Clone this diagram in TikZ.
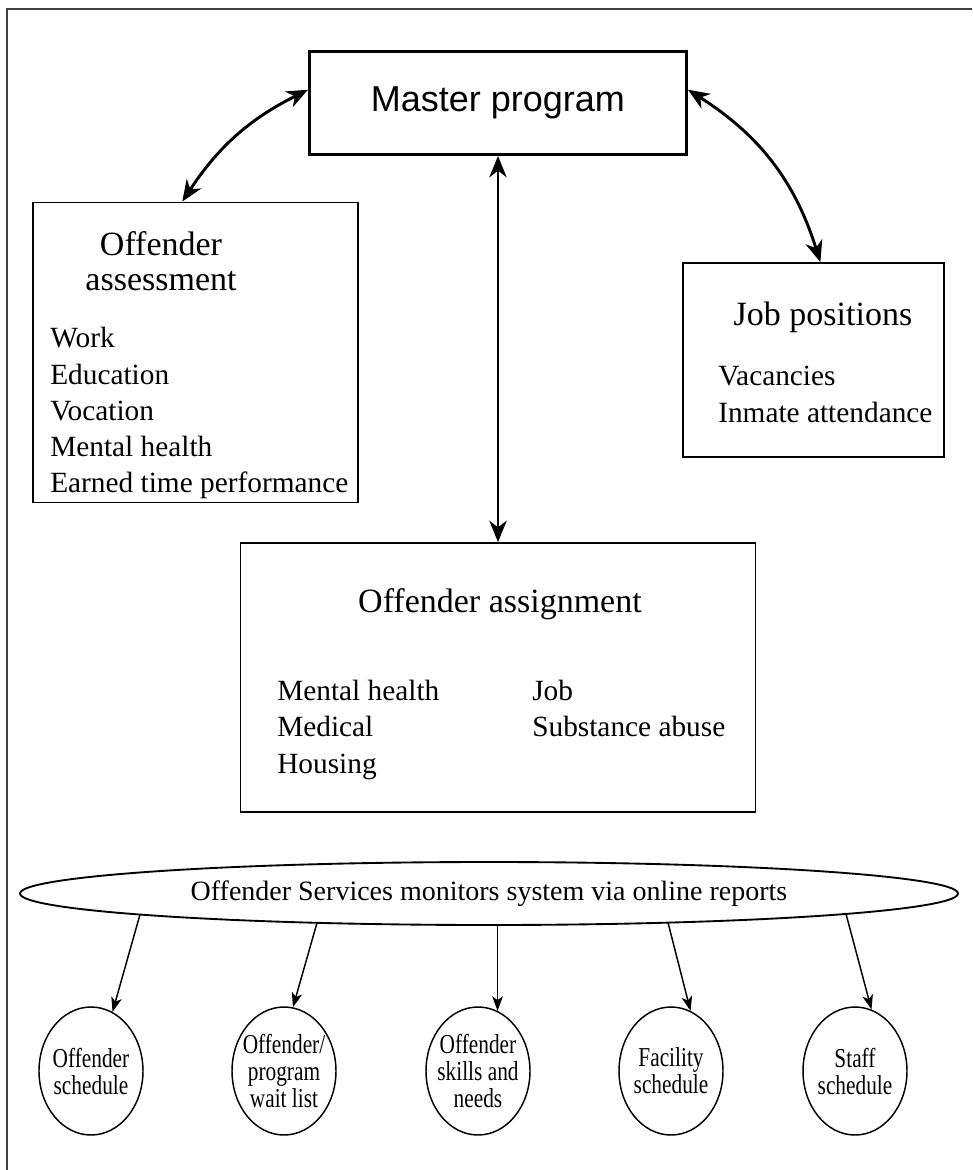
\documentclass[tikz,border=0pt]{standalone}
\usepackage{fontspec}
\setmainfont{Liberation Serif}
\newfontfamily\mastfont{Liberation Sans}
\newfontfamily\narrowfont[FakeStretch=0.78]{Liberation Serif}
\usepackage{tikz}
\usetikzlibrary{positioning,arrows.meta,shapes.geometric,calc}

\begin{document}
\begin{tikzpicture}[x=0.75pt,y=-0.75pt,
                    >={Stealth[length=16pt,width=13pt,inset=5pt]}]
  \tikzstyle{box}=[draw,line width=1.4pt,inner sep=0pt]
  \tikzstyle{head}=[font=\fontsize{25.5}{30}\selectfont,anchor=base,inner sep=0pt]
  \tikzstyle{item}=[font=\fontsize{22}{26}\selectfont,anchor=base west,inner sep=0pt]
  \tikzstyle{spot}=[draw,ellipse,line width=1.1pt,inner sep=0pt,
                    minimum width=78pt,minimum height=96pt]
  \tikzstyle{spottext}=[align=center,font=\narrowfont\fontsize{20.5}{20.25}\selectfont]
  \tikzstyle{link}=[<->,line width=2.2pt]
  \tikzstyle{feed}=[->,line width=1.1pt,>={Stealth[length=11pt,width=8pt,inset=3pt]}]

  \useasboundingbox (0,0) rectangle (972,1170);
  \draw[line width=2pt,black!75] (972,9) -- (7,9) -- (7,1170);

  % top
  \node[box,line width=2.2pt,minimum width=282.75pt,minimum height=77.25pt,
        font=\mastfont\fontsize{27}{32}\selectfont] (master) at (498,103) {Master program};

  % assessment
  \node[box,minimum width=243.75pt,minimum height=225pt] (assess) at (195.5,352.5) {};
  \node[head] (assesshead) at (161,255) {Offender};
  \node[head] (assesshead2) at (161,290) {assessment};
  \node[item] (work) at (50,347) {Work};
  \node[item] (educ) at (50,384) {Education};
  \node[item] (voc) at (50,420) {Vocation};
  \node[item] (mental) at (50,456) {Mental health};
  \node[item] (earned) at (50,492) {Earned time performance};

  % jobs
  \node[box,minimum width=195.75pt,minimum height=145.5pt] (jobs) at (813.5,360) {};
  \node[head] (jobshead) at (823,325) {Job positions};
  \node[item] (vacant) at (718,385) {Vacancies};
  \node[item] (attend) at (718,422) {Inmate attendance};

  % assignment
  \node[box,minimum width=386.25pt,minimum height=201.75pt] (assign) at (498,677.5) {};
  \node[head] (assignhead) at (500,612) {Offender assignment};
  \node[item] (amental) at (277,700) {Mental health};
  \node[item] (amedical) at (277,736) {Medical};
  \node[item] (ahousing) at (277,773) {Housing};
  \node[item] (ajob) at (532,700) {Job};
  \node[item] (asubst) at (532,736) {Substance abuse};

  % reports
  \node[draw,ellipse,line width=1.4pt,inner sep=0pt,minimum width=703.5pt,
        minimum height=47.25pt,font=\fontsize{21}{25}\selectfont]
        (reports) at (489,893.5) {Offender Services monitors system via online reports};

  \node[spot,label={[spottext]center:Offender\\schedule}] (offsched) at (91,1071) {};
  \node[spot,label={[spottext]center:Offender/\\program\\wait list}] (waitlist) at (284,1071) {};
  \node[spot,label={[spottext]center:Offender\\skills and\\needs}] (skills) at (478,1071) {};
  \node[spot,label={[spottext]center:Facility\\schedule}] (facility) at (671,1071) {};
  \node[spot,label={[spottext]center:Staff\\schedule}] (staff) at (855,1071) {};

  \coordinate (rep1) at ($(reports.center)+(-349,21)$);
  \coordinate (rep2) at ($(reports.center)+(-172,29.3)$);
  \coordinate (rep4) at ($(reports.center)+(179,29.1)$);
  \coordinate (rep5) at ($(reports.center)+(357,20.4)$);

  \draw[link] (master.176) to[bend right=15] (assess.95);
  \draw[link] (master.4) to[bend left=20] (jobs.86);
  \draw[link] (master.south) -- (assign.north);

  \draw[feed] (rep1) -- (offsched.70);
  \draw[feed] (rep2) -- (waitlist.82);
  \draw[feed] (reports.south -| skills.72) -- (skills.72);
  \draw[feed] (rep4) -- (facility.72);
  \draw[feed] (rep5) -- (staff.75);
\end{tikzpicture}
\end{document}
